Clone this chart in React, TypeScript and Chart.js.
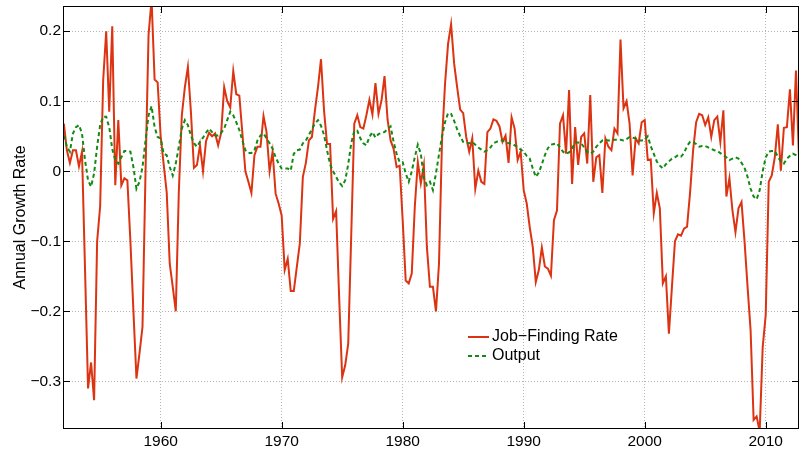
import React, { useEffect, useRef } from 'react';
import { Chart, registerables } from 'chart.js';

Chart.register(...registerables);

// Quarterly data, first observation 1952 Q1
const START_YEAR = 1952;

const JOB_FINDING = [
  0.068, 0.03, 0.012, 0.03, 0.03, 0.007, 0.028, -0.14,
  -0.31, -0.273, -0.327, -0.1, -0.05, 0.13, 0.2, 0.085,
  0.207, -0.02, 0.073, -0.02, -0.01, -0.013, -0.1, -0.2,
  -0.296, -0.26, -0.222, 0.0, 0.195, 0.245, 0.131, 0.127,
  0.05, 0.01, -0.03, -0.132, -0.165, -0.2, -0.03, 0.08,
  0.12, 0.149, 0.085, 0.005, 0.009, 0.037, 0.0, 0.043,
  0.055, 0.05, 0.054, 0.037, 0.055, 0.12, 0.1, 0.091,
  0.143, 0.11, 0.108, 0.055, 0.0, -0.015, -0.031, 0.023,
  0.035, 0.035, 0.079, 0.056, 0.0, 0.028, -0.032, -0.046,
  -0.063, -0.141, -0.125, -0.171, -0.171, -0.137, -0.103, -0.008,
  0.012, 0.044, 0.049, 0.087, 0.12, 0.16, 0.087, 0.039,
  0.039, -0.068, -0.057, -0.18, -0.294, -0.277, -0.246, -0.09,
  0.068, 0.08, 0.063, 0.061, 0.08, 0.102, 0.081, 0.126,
  0.082, 0.101, 0.136, 0.074, 0.044, 0.032, 0.006, 0.008,
  -0.07, -0.156, -0.16, -0.146, -0.051, 0.013, -0.017, 0.009,
  -0.108, -0.165, -0.165, -0.2, -0.132, 0.044, 0.125, 0.182,
  0.21, 0.154, 0.12, 0.088, 0.083, 0.049, 0.028, 0.047,
  -0.025, 0.001, -0.015, -0.018, 0.056, 0.061, 0.074, 0.072,
  0.064, 0.042, 0.051, 0.012, 0.077, 0.061, 0.016, 0.028,
  -0.027, -0.046, -0.08, -0.108, -0.158, -0.141, -0.109, -0.136,
  -0.139, -0.149, -0.07, -0.056, 0.068, 0.08, 0.025, 0.116,
  -0.018, 0.063, 0.009, 0.049, 0.054, 0.011, 0.109, -0.015,
  0.02, 0.023, -0.031, 0.047, 0.035, 0.03, 0.061, 0.054,
  0.188, 0.09, 0.1, 0.068, -0.006, 0.047, 0.04, 0.07,
  0.073, 0.016, 0.017, -0.06, -0.031, -0.053, -0.16, -0.15,
  -0.232, -0.165, -0.1, -0.09, -0.092, -0.082, -0.079, -0.03,
  0.03, 0.07, 0.082, 0.08, 0.066, 0.077, 0.049, 0.073,
  0.078, 0.042, 0.087, -0.036, -0.01, -0.056, -0.087, -0.053,
  -0.044, -0.1, -0.165, -0.227, -0.355, -0.35, -0.372, -0.251,
  -0.205, -0.015, -0.006, 0.02, 0.067, 0.001, 0.062, 0.063,
  0.117, 0.037, 0.144, 0.02,
];

const OUTPUT = [
  0.051, 0.035, 0.028, 0.054, 0.063, 0.066, 0.054, 0.016,
  -0.013, -0.022, -0.003, 0.035, 0.066, 0.078, 0.078, 0.063,
  0.032, 0.016, 0.011, 0.02, 0.029, 0.029, 0.028, 0.006,
  -0.025, -0.015, 0.006, 0.044, 0.08, 0.093, 0.063, 0.049,
  0.047, 0.025, 0.023, 0.006, -0.006, 0.011, 0.035, 0.061,
  0.073, 0.066, 0.051, 0.04, 0.035, 0.042, 0.048, 0.055,
  0.061, 0.056, 0.051, 0.051, 0.055, 0.061, 0.073, 0.085,
  0.08, 0.07, 0.059, 0.044, 0.03, 0.026, 0.026, 0.03,
  0.044, 0.051, 0.054, 0.047, 0.04, 0.032, 0.02, 0.011,
  0.004, 0.004, 0.004, 0.001, 0.025, 0.03, 0.031, 0.04,
  0.044, 0.052, 0.06, 0.068, 0.073, 0.065, 0.052, 0.03,
  0.01, 0.0, -0.008, -0.016, -0.021, -0.013, 0.01, 0.04,
  0.058, 0.058, 0.047, 0.04, 0.037, 0.049, 0.056, 0.048,
  0.053, 0.055, 0.056, 0.06, 0.064, 0.042, 0.025, 0.013,
  0.013, -0.003, -0.015, 0.0, 0.02, 0.038, 0.025, -0.01,
  -0.02, -0.015, -0.027, -0.003, 0.024, 0.05, 0.07, 0.083,
  0.082, 0.072, 0.06, 0.05, 0.042, 0.04, 0.04, 0.042,
  0.038, 0.034, 0.031, 0.028, 0.03, 0.034, 0.04, 0.042,
  0.044, 0.044, 0.042, 0.04, 0.04, 0.037, 0.035, 0.031,
  0.028, 0.022, 0.018, 0.004, -0.008, -0.002, 0.01, 0.023,
  0.033, 0.038, 0.039, 0.04, 0.034, 0.028, 0.025, 0.027,
  0.033, 0.041, 0.041, 0.04, 0.034, 0.028, 0.025, 0.028,
  0.035, 0.04, 0.044, 0.045, 0.044, 0.044, 0.045, 0.045,
  0.045, 0.044, 0.046, 0.049, 0.048, 0.047, 0.044, 0.044,
  0.045, 0.05, 0.036, 0.025, 0.014, 0.008, 0.004, 0.01,
  0.014, 0.018, 0.02, 0.023, 0.021, 0.026, 0.036, 0.042,
  0.042, 0.039, 0.035, 0.036, 0.036, 0.034, 0.032, 0.03,
  0.029, 0.026, 0.023, 0.02, 0.016, 0.018, 0.02, 0.018,
  0.012, 0.005, -0.008, -0.025, -0.036, -0.04, -0.027, 0.0,
  0.02, 0.028, 0.029, 0.029, 0.021, 0.014, 0.011, 0.018,
  0.022, 0.025, 0.023, 0.02,
];

const SERIES_LABELS = ['Job\u2212Finding Rate', 'Output'];
const X_TICKS = [1960, 1970, 1980, 1990, 2000, 2010];
const Y_TICKS = [-0.3, -0.2, -0.1, 0, 0.1, 0.2];
const Y_TICK_LABELS = ['\u22120.3', '\u22120.2', '\u22120.1', '0', '0.1', '0.2'];
const Y_TITLE = 'Annual Growth Rate';

const FONT = '"Liberation Sans", Arial, Helvetica, sans-serif';
const RED = '#dc3412';
const GREEN = '#138a13';

export default function App() {
  const ref = useRef<HTMLCanvasElement>(null);

  useEffect(() => {
    if (!ref.current) return;
    const xs = JOB_FINDING.map((_, i) => START_YEAR + i / 4);

    const framePlugin = {
      id: 'matlabFrame',
      afterDraw(chart: any) {
        const { ctx, chartArea: a, scales } = chart;
        ctx.save();
        // ticks (inward)
        ctx.strokeStyle = '#000';
        ctx.lineWidth = 1;
        ctx.setLineDash([]);
        const TL = 7;
        ctx.beginPath();
        X_TICKS.forEach((v) => {
          const x = Math.round(scales.x.getPixelForValue(v)) + 0.5;
          ctx.moveTo(x, a.bottom);
          ctx.lineTo(x, a.bottom - TL);
          ctx.moveTo(x, a.top);
          ctx.lineTo(x, a.top + TL);
        });
        Y_TICKS.forEach((v) => {
          const y = Math.round(scales.y.getPixelForValue(v)) + 0.5;
          ctx.moveTo(a.left, y);
          ctx.lineTo(a.left + TL, y);
          ctx.moveTo(a.right, y);
          ctx.lineTo(a.right - TL, y);
        });
        ctx.stroke();
        // box
        ctx.strokeRect(a.left + 0.5, a.top + 0.5, a.right - a.left - 1, a.bottom - a.top - 1);

        // y-axis title
        ctx.fillStyle = '#000';
        ctx.font = `16px ${FONT}`;
        ctx.textAlign = 'center';
        ctx.textBaseline = 'middle';
        ctx.translate(21, (a.top + a.bottom) / 2);
        ctx.rotate(-Math.PI / 2);
        ctx.fillText(Y_TITLE, 0, 0);
        ctx.setTransform(1, 0, 0, 1, 0, 0);

        // legend (no box)
        const lx = a.left + 405;
        const ly = a.top + 331;
        chart.data.datasets.forEach((ds: any, i: number) => {
          const y = ly + i * 19;
          ctx.beginPath();
          ctx.strokeStyle = ds.borderColor;
          ctx.lineWidth = ds.borderWidth;
          ctx.setLineDash(ds.borderDash || []);
          ctx.moveTo(lx, y);
          ctx.lineTo(lx + 21, y);
          ctx.stroke();
          ctx.setLineDash([]);
          ctx.fillStyle = '#000';
          ctx.font = `16px ${FONT}`;
          ctx.textAlign = 'left';
          ctx.textBaseline = 'middle';
          ctx.fillText(ds.label, lx + 24, y);
        });
        ctx.restore();
      },
    };

    const chart = new Chart(ref.current, {
      type: 'line',
      data: {
        datasets: [
          {
            label: SERIES_LABELS[0],
            data: xs.map((x, i) => ({ x, y: JOB_FINDING[i] })),
            borderColor: RED,
            borderWidth: 2,
            pointRadius: 0,
            tension: 0,
            fill: false,
            clip: 0,
            order: 1,
          },
          {
            label: SERIES_LABELS[1],
            data: xs.map((x, i) => ({ x, y: OUTPUT[i] })),
            borderColor: GREEN,
            borderWidth: 2,
            borderDash: [4, 3],
            pointRadius: 0,
            tension: 0,
            fill: false,
            clip: 0,
            order: 0,
          },
        ],
      },
      options: {
        responsive: false,
        maintainAspectRatio: false,
        devicePixelRatio: 1,
        animation: false,
        events: [],
        layout: { padding: { top: 6, right: 1, left: 0, bottom: 0 } },
        plugins: { legend: { display: false }, tooltip: { enabled: false }, title: { display: false } },
        scales: {
          x: {
            type: 'linear',
            min: 1951.93,
            max: 2012.75,
            afterFit: (s: any) => { s.height = 25; s.paddingLeft = 0; s.paddingRight = 0; },
            afterBuildTicks: (s: any) => { s.ticks = X_TICKS.map((value) => ({ value })); },
            grid: { color: '#b4b4b4', lineWidth: 1, drawTicks: false },
            border: { display: false, dash: [1, 2] },
            ticks: {
              padding: 3,
              color: '#000',
              font: { family: FONT, size: 15.5 },
              maxRotation: 0,
              autoSkip: false,
              callback: (v: any) => String(v),
            },
          },
          y: {
            type: 'linear',
            min: -0.368,
            max: 0.236,
            afterFit: (s: any) => { s.width = 63; s.paddingTop = 0; s.paddingBottom = 0; },
            afterBuildTicks: (s: any) => { s.ticks = Y_TICKS.map((value) => ({ value })); },
            grid: { color: '#b4b4b4', lineWidth: 1, drawTicks: false },
            border: { display: false, dash: [1, 2] },
            ticks: {
              padding: 2,
              color: '#000',
              font: { family: FONT, size: 15.5 },
              autoSkip: false,
              callback: (v: any) => {
                const k = Y_TICKS.findIndex((t) => Math.abs(t - v) < 1e-9);
                return k >= 0 ? Y_TICK_LABELS[k] : '';
              },
            },
          },
        },
      },
      plugins: [framePlugin],
    });

    return () => chart.destroy();
  }, []);

  return (
    <div style={{ position: 'fixed', left: 0, top: 0, width: 800, height: 454, background: '#fff' }}>
      <canvas ref={ref} width={800} height={454} style={{ display: 'block', width: 800, height: 454 }} />
    </div>
  );
}
